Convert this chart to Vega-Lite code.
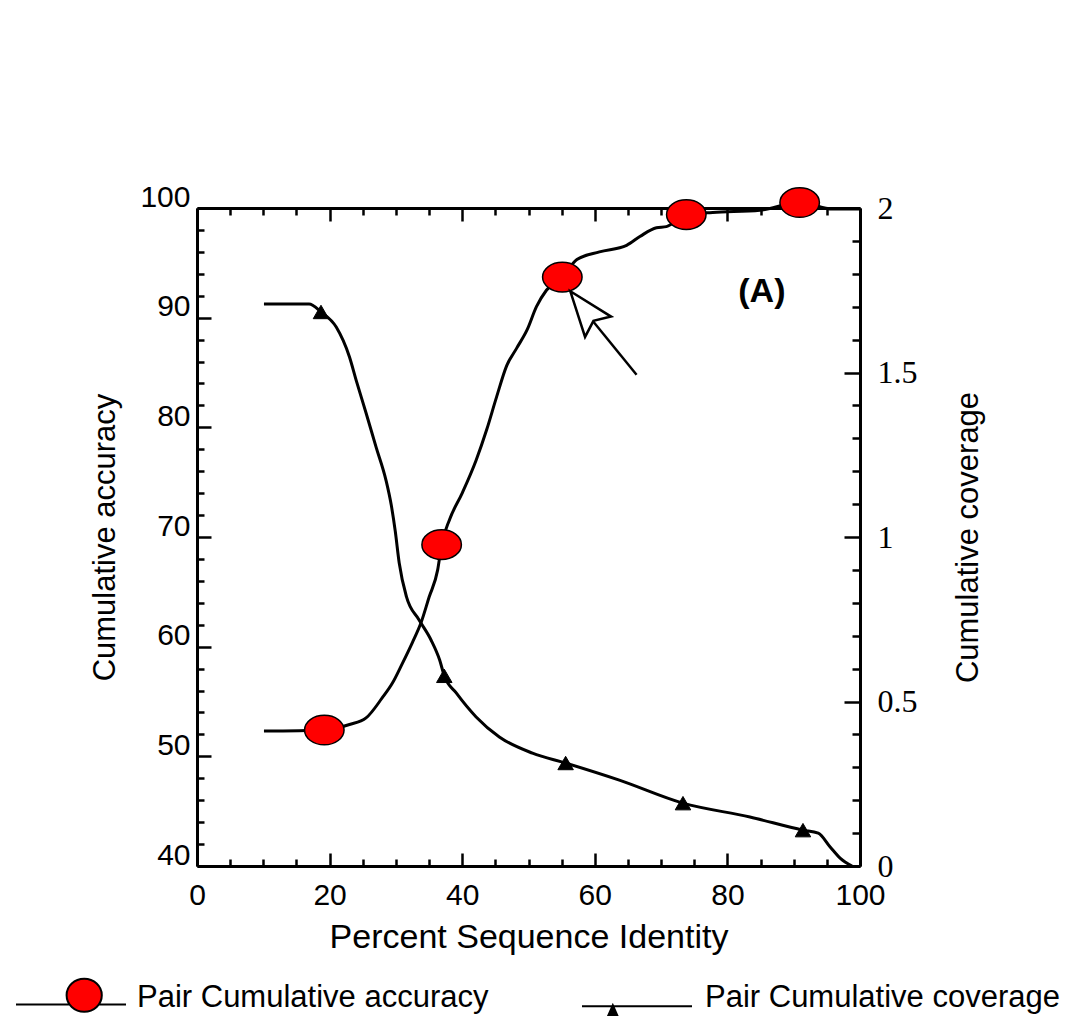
{
  "$schema": "https://vega.github.io/schema/vega-lite/v6.json",
  "width": 663,
  "height": 658,
  "autosize": "none",
  "padding": {"left": 197, "top": 208, "right": 215, "bottom": 150},
  "background": "white",
  "config": {
    "font": "Liberation Sans",
    "view": {"stroke": null},
    "axis": {
      "grid": false,
      "domainColor": "black",
      "domainWidth": 3,
      "tickColor": "black",
      "tickWidth": 2.5,
      "labelColor": "black",
      "titleColor": "black",
      "labelFont": "Liberation Sans",
      "titleFont": "Liberation Sans",
      "titleFontWeight": "normal",
      "labelOverlap": false,
      "labelFlush": false
    }
  },
  "datasets": {
    "acc": [
      {"x": 10.1, "a": 52.3, "m": 0},
      {"x": 19.2, "a": 52.4, "m": 1},
      {"x": 23.0, "a": 52.9, "m": 0},
      {"x": 25.5, "a": 53.5, "m": 0},
      {"x": 27.9, "a": 55.3, "m": 0},
      {"x": 29.5, "a": 56.7, "m": 0},
      {"x": 31.0, "a": 58.5, "m": 0},
      {"x": 32.5, "a": 60.4, "m": 0},
      {"x": 33.8, "a": 62.2, "m": 0},
      {"x": 35.0, "a": 64.5, "m": 0},
      {"x": 36.3, "a": 67.0, "m": 0},
      {"x": 36.9, "a": 69.3, "m": 1},
      {"x": 38.1, "a": 71.6, "m": 0},
      {"x": 40.0, "a": 74.0, "m": 0},
      {"x": 42.1, "a": 77.0, "m": 0},
      {"x": 43.7, "a": 79.8, "m": 0},
      {"x": 45.2, "a": 82.8, "m": 0},
      {"x": 46.7, "a": 85.6, "m": 0},
      {"x": 48.2, "a": 87.2, "m": 0},
      {"x": 49.8, "a": 88.9, "m": 0},
      {"x": 51.2, "a": 91.0, "m": 0},
      {"x": 52.7, "a": 92.5, "m": 0},
      {"x": 55.1, "a": 93.7, "m": 1},
      {"x": 57.3, "a": 95.3, "m": 0},
      {"x": 60.7, "a": 96.0, "m": 0},
      {"x": 64.8, "a": 96.6, "m": 0},
      {"x": 66.8, "a": 97.4, "m": 0},
      {"x": 69.3, "a": 98.2, "m": 0},
      {"x": 70.8, "a": 98.3, "m": 0},
      {"x": 73.8, "a": 99.4, "m": 1},
      {"x": 77.8, "a": 99.6, "m": 0},
      {"x": 84.9, "a": 99.8, "m": 0},
      {"x": 90.9, "a": 100.5, "m": 1},
      {"x": 95.9, "a": 99.9, "m": 0},
      {"x": 100, "a": 99.9, "m": 0}
    ],
    "cov": [
      {"x": 10.1, "c": 1.708, "m": 0},
      {"x": 16.9, "c": 1.708, "m": 0},
      {"x": 18.7, "c": 1.684, "m": 1},
      {"x": 21.0, "c": 1.638, "m": 0},
      {"x": 23.0, "c": 1.547, "m": 0},
      {"x": 24.0, "c": 1.477, "m": 0},
      {"x": 25.5, "c": 1.377, "m": 0},
      {"x": 27.0, "c": 1.274, "m": 0},
      {"x": 28.5, "c": 1.173, "m": 0},
      {"x": 29.3, "c": 1.097, "m": 0},
      {"x": 29.9, "c": 1.018, "m": 0},
      {"x": 30.5, "c": 0.921, "m": 0},
      {"x": 31.6, "c": 0.818, "m": 0},
      {"x": 33.5, "c": 0.748, "m": 0},
      {"x": 35.3, "c": 0.687, "m": 0},
      {"x": 36.6, "c": 0.626, "m": 0},
      {"x": 37.3, "c": 0.578, "m": 1},
      {"x": 39.1, "c": 0.526, "m": 0},
      {"x": 42.1, "c": 0.453, "m": 0},
      {"x": 45.6, "c": 0.392, "m": 0},
      {"x": 50.6, "c": 0.343, "m": 0},
      {"x": 55.6, "c": 0.313, "m": 1},
      {"x": 63.7, "c": 0.261, "m": 0},
      {"x": 73.3, "c": 0.191, "m": 1},
      {"x": 83.4, "c": 0.149, "m": 0},
      {"x": 91.4, "c": 0.109, "m": 1},
      {"x": 93.7, "c": 0.100, "m": 0},
      {"x": 95.5, "c": 0.058, "m": 0},
      {"x": 97.0, "c": 0.024, "m": 0},
      {"x": 98.8, "c": 0.0, "m": 0}
    ],
    "arrowShaft": [{"x": 59.7, "a": 89.7, "x2": 66.3, "a2": 84.8}],
    "arrowHead": [{"x": 59.1, "a": 90.25}],
    "panel": [{"x": 85.2, "a": 92.3, "label": "(A)"}]
  },
  "layer": [
    {
      "layer": [
        {
          "data": {"name": "acc"},
          "mark": {"type": "line", "color": "black", "strokeWidth": 3, "interpolate": "monotone"},
          "encoding": {
            "x": {
              "field": "x", "type": "quantitative",
              "scale": {"domain": [0, 100], "nice": false, "zero": false},
              "axis": {
                "orient": "bottom",
                "title": "Percent Sequence Identity",
                "titleFontSize": 34,
                "titlePadding": 4,
                "values": [0,5,10,15,20,25,30,35,40,45,50,55,60,65,70,75,80,85,90,95,100],
                "tickCount": 200,
                "labelExpr": "datum.value % 20 === 0 ? format(datum.value, '~g') : ''",
                "labelOverlap": false,
                "labelFontSize": 30,
                "labelPadding": 27,
                "tickSize": {"condition": {"test": "datum.value % 20 === 0", "value": -13}, "value": -7}
              }
            },
            "y": {
              "field": "a", "type": "quantitative",
              "scale": {"domain": [40, 100], "nice": false, "zero": false},
              "axis": {
                "orient": "left",
                "title": "Cumulative accuracy",
                "titleFontSize": 31,
                "titlePadding": 18,
                "values": [40,42,44,46,48,50,52,54,56,58,60,62,64,66,68,70,72,74,76,78,80,82,84,86,88,90,92,94,96,98,100],
                "tickCount": 200,
                "labelExpr": "datum.value % 10 === 0 ? format(datum.value, '~g') : ''",
                "labelOverlap": false,
                "labelFontSize": 30,
                "labelPadding": 21,
                "labelOffset": -11,
                "tickSize": {"condition": {"test": "datum.value % 10 === 0", "value": -14}, "value": -7}
              }
            }
          }
        },
        {
          "data": {"name": "acc"},
          "transform": [{"filter": "datum.m == 1"}],
          "mark": {
            "type": "point", "filled": true, "opacity": 1,
            "shape": "M-1,0 A1,0.75 0 1,0 1,0 A1,0.75 0 1,0 -1,0 Z",
            "size": 1560, "stroke": "black", "strokeWidth": 1.5
          },
          "encoding": {
            "x": {"field": "x", "type": "quantitative"},
            "y": {"field": "a", "type": "quantitative"},
            "fill": {
              "datum": "Pair Cumulative accuracy", "type": "nominal",
              "scale": {"range": ["#ff0000"]},
              "legend": {
                "orient": "none", "legendX": -182, "legendY": 734,
                "title": null, "padding": 0,
                "symbolType": "M-1,0.12 L-0.02,0.12 M0.5,0.12 L1,0.12 M-0.08,-0.05 A0.32,0.3 0 1,0 0.56,-0.05 A0.32,0.3 0 1,0 -0.08,-0.05 Z",
                "symbolSize": 12100,
                "symbolStrokeColor": "black",
                "symbolStrokeWidth": 2,
                "symbolOpacity": 1,
                "labelFont": "Liberation Sans",
                "labelFontSize": 31,
                "labelColor": "black",
                "labelLimit": 0,
                "labelOffset": 10
              }
            }
          }
        },
        {
          "data": {"name": "arrowShaft"},
          "mark": {"type": "rule", "color": "black", "strokeWidth": 2.5},
          "encoding": {
            "x": {"field": "x", "type": "quantitative"},
            "y": {"field": "a", "type": "quantitative"},
            "x2": {"field": "x2"},
            "y2": {"field": "a2"}
          }
        },
        {
          "data": {"name": "arrowHead"},
          "mark": {
            "type": "point", "filled": true, "opacity": 1,
            "shape": "M0,-1 L0.55,0.5 L0,0.25 L-0.55,0.5 Z",
            "size": 3600, "fill": "white", "stroke": "black", "strokeWidth": 2.5, "angle": 322
          },
          "encoding": {
            "x": {"field": "x", "type": "quantitative"},
            "y": {"field": "a", "type": "quantitative"}
          }
        },
        {
          "data": {"name": "panel"},
          "mark": {"type": "text", "font": "Liberation Sans", "fontWeight": "bold", "fontSize": 34, "color": "black"},
          "encoding": {
            "x": {"field": "x", "type": "quantitative"},
            "y": {"field": "a", "type": "quantitative"},
            "text": {"field": "label"}
          }
        }
      ]
    },
    {
      "layer": [
        {
          "data": {"name": "cov"},
          "mark": {"type": "line", "color": "black", "strokeWidth": 3, "interpolate": "monotone"},
          "encoding": {
            "x": {
              "field": "x", "type": "quantitative",
              "axis": {
                "orient": "top",
                "title": null,
                "labels": false,
                "values": [0,5,10,15,20,25,30,35,40,45,50,55,60,65,70,75,80,85,90,95,100],
                "tickCount": 200,
                "tickSize": {"condition": {"test": "datum.value % 20 === 0", "value": -13}, "value": -7}
              }
            },
            "y": {
              "field": "c", "type": "quantitative",
              "scale": {"domain": [0, 2], "nice": false, "zero": false},
              "axis": {
                "orient": "right",
                "title": "Cumulative coverage",
                "titleFontSize": 31,
                "titleAngle": 270,
                "titleBaseline": "top",
                "titlePadding": 36,
                "values": [0,0.1,0.2,0.3,0.4,0.5,0.6,0.7,0.8,0.9,1,1.1,1.2,1.3,1.4,1.5,1.6,1.7,1.8,1.9,2],
                "tickCount": 200,
                "labelExpr": "abs(datum.value*2 - round(datum.value*2)) < 0.001 ? format(datum.value, '~g') : ''",
                "labelOverlap": false,
                "labelFont": "Liberation Serif",
                "labelFontSize": 32,
                "labelPadding": 33,
                "tickSize": {"condition": {"test": "abs(datum.value*2 - round(datum.value*2)) < 0.001", "value": -16}, "value": -8}
              }
            }
          }
        },
        {
          "data": {"name": "cov"},
          "transform": [{"filter": "datum.m == 1"}],
          "mark": {
            "type": "point", "filled": true, "opacity": 1,
            "shape": "triangle-up", "size": 240, "fill": "black", "strokeWidth": 1
          },
          "encoding": {
            "x": {"field": "x", "type": "quantitative", "axis": {"orient": "top"}},
            "y": {"field": "c", "type": "quantitative", "axis": {"orient": "right"}},
            "stroke": {
              "datum": "Pair Cumulative coverage", "type": "nominal",
              "scale": {"range": ["black"]},
              "legend": {
                "orient": "none", "legendX": 384, "legendY": 734,
                "title": null, "padding": 0,
                "symbolType": "M-1,0.15 L1,0.15 M-0.44,0.13 L-0.3,0.45 L-0.58,0.45 Z",
                "symbolSize": 12100,
                "symbolFillColor": "black",
                "symbolStrokeColor": "black",
                "symbolStrokeWidth": 2,
                "symbolOpacity": 1,
                "labelFont": "Liberation Sans",
                "labelFontSize": 31,
                "labelColor": "black",
                "labelLimit": 0,
                "labelOffset": 12
              }
            }
          }
        }
      ]
    }
  ],
  "resolve": {"scale": {"y": "independent"}}
}
